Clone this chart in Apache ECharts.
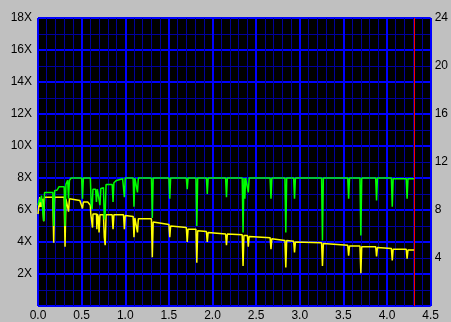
<!DOCTYPE html>
<html>
<head>
<meta charset="utf-8">
<script src="https://cdn.jsdelivr.net/npm/echarts@6/dist/echarts.min.js"></script>
<style>
html,body{margin:0;padding:0;background:#c0c0c0;}
#chart{width:451px;height:322px;}
</style>
</head>
<body>
<div id="chart"></div>
<script>
// Position on disc (GB) and read speed (X)
const greenPos = [0.00,0.02,0.03,0.04,0.055,0.065,0.075,0.17,0.18,0.19,0.22,0.24,0.30,0.31,0.32,0.34,0.35,0.36,0.38,0.50,0.51,0.52,0.60,0.61,0.62,0.63,0.66,0.67,0.68,0.70,0.71,0.72,0.75,0.76,0.77,0.78,0.85,0.86,0.87,0.90,0.97,0.98,0.99,1.00,1.09,1.10,1.11,1.13,1.14,1.15,1.30,1.31,1.32,1.50,1.51,1.52,1.70,1.71,1.72,1.81,1.82,1.83,1.93,1.94,1.95,2.15,2.16,2.17,2.34,2.35,2.36,2.37,2.38,2.40,2.41,2.42,2.66,2.67,2.68,2.83,2.84,2.85,2.93,2.94,2.95,3.25,3.26,3.27,3.55,3.56,3.57,3.69,3.70,3.71,3.87,3.88,3.89,4.05,4.06,4.07,4.22,4.23,4.24,4.31];
const greenSpeed = [6.3,6.7,6.5,6.9,7.0,5.3,7.1,7.1,5.0,7.2,7.25,7.45,7.45,5.0,7.6,7.85,6.7,7.85,8.0,8.0,6.7,8.0,8.0,6.3,6.05,7.3,7.3,6.5,7.3,7.3,6.3,7.35,7.4,5.4,5.8,7.6,7.6,6.5,7.7,7.85,7.95,7.95,6.8,8.0,8.0,6.2,8.0,8.0,7.1,8.0,8.0,5.5,8.0,8.0,6.7,8.0,8.0,7.3,8.0,8.0,5.0,8.0,8.0,7.0,8.0,8.0,6.8,8.0,8.0,4.6,8.0,6.7,8.0,8.0,7.1,8.0,8.0,6.7,8.0,8.0,4.6,8.0,8.0,6.7,8.0,8.0,4.1,8.0,8.0,6.7,8.0,8.0,4.4,8.0,8.0,6.6,8.0,8.0,6.2,7.95,7.95,6.7,7.95,7.95];

const yellowPos = [0.00,0.02,0.025,0.035,0.045,0.055,0.065,0.075,0.17,0.18,0.19,0.30,0.31,0.32,0.34,0.35,0.36,0.48,0.50,0.51,0.52,0.57,0.60,0.605,0.62,0.625,0.63,0.67,0.675,0.68,0.69,0.70,0.71,0.75,0.76,0.77,0.78,0.85,0.86,0.87,0.98,0.99,1.00,1.09,1.10,1.11,1.13,1.14,1.15,1.30,1.31,1.32,1.50,1.51,1.52,1.70,1.71,1.72,1.81,1.82,1.83,1.93,1.94,1.95,2.15,2.16,2.17,2.34,2.35,2.36,2.40,2.41,2.42,2.66,2.67,2.68,2.83,2.84,2.85,2.93,2.94,2.95,3.25,3.26,3.27,3.55,3.56,3.57,3.69,3.70,3.71,3.87,3.88,3.89,4.05,4.06,4.07,4.22,4.23,4.24,4.31];
const yellowSpeed = [5.75,6.8,6.2,6.5,6.2,6.7,5.3,6.8,6.8,3.95,6.8,6.8,3.7,6.7,6.7,5.9,6.7,6.6,6.6,6.1,6.5,6.5,6.3,5.75,5.75,4.9,5.75,5.75,4.8,5.75,5.6,4.6,5.7,5.7,4.3,3.8,5.7,5.7,4.8,5.7,5.7,4.8,5.65,5.6,4.3,5.5,5.5,4.6,5.45,5.45,3.05,5.25,5.1,4.3,5.0,4.9,4.0,4.8,4.8,2.7,4.7,4.65,4.0,4.6,4.5,3.8,4.5,4.45,2.5,4.4,4.4,3.7,4.35,4.27,3.55,4.2,4.1,2.4,4.1,4.05,3.35,4.0,3.95,2.5,3.9,3.8,3.15,3.75,3.75,2.05,3.7,3.7,3.1,3.65,3.6,2.85,3.55,3.55,2.95,3.5,3.5];

const endMarker = [4.31];

const xTicks = [0,0.5,1,1.5,2,2.5,3,3.5,4,4.5];
const leftTicks = [2,4,6,8,10,12,14,16,18];
const rightTicks = [4,8,12,16,20,24];

const pairs = (xs, ys) => xs.map((x, i) => [x, ys[i]]);
const font = 'Liberation Sans, Arial, sans-serif';
const major = {show:true, lineStyle:{color:'#0000ff', width:2}};
const minor = {show:true, lineStyle:{color:'#00009c', width:1}};

const chart = echarts.init(document.getElementById('chart'));
chart.setOption({
  animation:false,
  backgroundColor:'#c0c0c0',
  grid:{left:38, right:18, top:18, bottom:16, show:true, backgroundColor:'#000000', borderWidth:0},
  xAxis:{
    type:'value', min:0, max:4.5, interval:0.5,
    axisLine:{show:false}, axisTick:{show:false},
    axisLabel:{color:'#000', fontFamily:font, fontSize:12, margin:4,
      formatter:v => xTicks.some(t => Math.abs(t - v) < 1e-6) ? v.toFixed(1) : ''},
    splitLine:major,
    minorTick:{show:false, splitNumber:5},
    minorSplitLine:minor
  },
  yAxis:[{
    type:'value', min:0, max:18, interval:2, position:'left',
    axisLine:{show:false}, axisTick:{show:false},
    axisLabel:{color:'#000', fontFamily:font, fontSize:12, margin:6,
      formatter:v => leftTicks.includes(v) ? v + 'X' : ''},
    splitLine:major,
    minorTick:{show:false, splitNumber:2},
    minorSplitLine:minor
  },{
    type:'value', min:0, max:24, interval:4, position:'right',
    axisLine:{show:false}, axisTick:{show:false},
    axisLabel:{color:'#000', fontFamily:font, fontSize:12, margin:4,
      formatter:v => rightTicks.includes(v) ? String(v) : ''},
    splitLine:{show:false}
  }],
  series:[{
    type:'line', data:pairs(yellowPos, yellowSpeed), showSymbol:false,
    lineStyle:{color:'#ffff00', width:1.5}, itemStyle:{color:'#ffff00'}
  },{
    type:'line', data:pairs(greenPos, greenSpeed), showSymbol:false,
    lineStyle:{color:'#00ff00', width:1.5}, itemStyle:{color:'#00ff00'},
    markLine:{silent:true, symbol:['none','none'], label:{show:false},
      lineStyle:{color:'#ff0000', width:1, type:'solid'},
      data:endMarker.map(x => ({xAxis:x}))}
  }]
});
</script>
</body>
</html>
